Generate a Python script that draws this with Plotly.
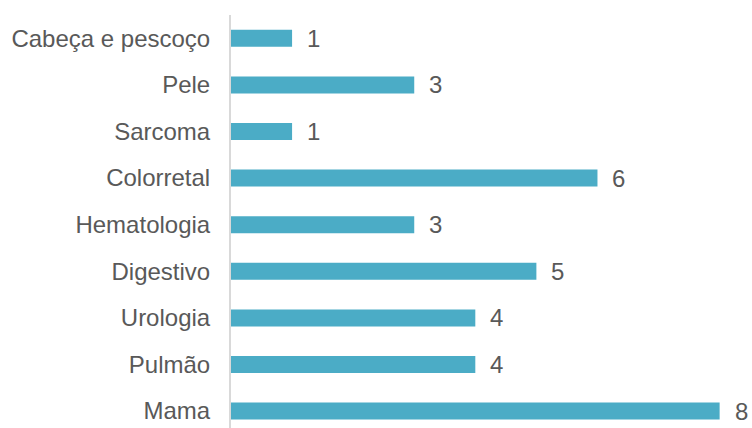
import plotly.graph_objects as go

categories = ["Mama", "Pulmão", "Urologia", "Digestivo", "Hematologia",
              "Colorretal", "Sarcoma", "Pele", "Cabeça e pescoço"]
values = [8, 4, 4, 5, 3, 6, 1, 3, 1]

bar_color = "#4BACC6"
text_color = "#595959"
font_family = "Liberation Sans, Arial, sans-serif"

fig = go.Figure()
fig.add_trace(go.Bar(
    x=values, y=categories, orientation="h",
    marker=dict(color=bar_color, line=dict(width=0)),
    width=0.365,
    hoverinfo="x+y",
))

for c, v in zip(categories, values):
    fig.add_annotation(x=v, y=c, text=str(v), showarrow=False,
                       xanchor="left", yanchor="middle", xshift=13,
                       font=dict(size=24, color=text_color, family=font_family))

fig.update_layout(
    width=752, height=428,
    margin=dict(l=231, r=0, t=15, b=0, autoexpand=False),
    paper_bgcolor="white", plot_bgcolor="white",
    showlegend=False,
    font=dict(family=font_family, color=text_color, size=24),
    xaxis=dict(range=[0, 8.53], visible=False, fixedrange=True, automargin=False),
    yaxis=dict(
        type="category",
        categoryorder="array", categoryarray=categories,
        range=[-0.363, 8.5],
        automargin=False,
        showline=True, linecolor="#d9d9d9", linewidth=2,
        showgrid=False, zeroline=False,
        ticks="outside", ticklen=14, tickcolor="rgba(0,0,0,0)",
        tickfont=dict(size=24, color=text_color, family=font_family),
    ),
)

# remove the browser's default page margin so the figure fills the window exactly
fig.write_html(
    "out.html",
    config={"displayModeBar": False},
    post_script="document.body.style.margin='0';document.body.style.overflow='hidden';",
)
